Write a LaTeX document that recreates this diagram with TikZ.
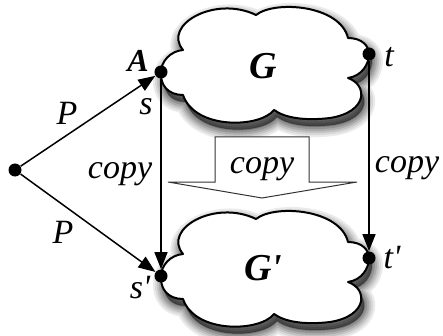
\documentclass[tikz,border=0pt]{standalone}
\usepackage{fontspec}
\setmainfont{Liberation Serif}
\usetikzlibrary{arrows.meta}
\newcommand\cloudpath{(161,72) .. controls (161,62) and (170,51) .. (183,50)
 .. controls (162,25) and (215,-5) .. (256,15)
 .. controls (275,0) and (340,5) .. (348,38)
 .. controls (362,38) and (369,46) .. (369,54)
 .. controls (369,64) and (362,76) .. (348,78)
 .. controls (368,85) and (368,112) .. (330,118)
 .. controls (305,121) and (285,118) .. (274,110)
 .. controls (260,128) and (195,130) .. (183,95)
 .. controls (168,95) and (160,85) .. (161,72) -- cycle}
\newcommand\cloudshadow{%
  \foreach \w/\o in {11/0.08,9/0.08,7/0.1,5/0.12,3/0.14,1/0.16}{%
    \path[shift={(3,7)}, fill=black, draw=black, line width=\w pt, opacity=\o, line join=round] \cloudpath;}}
\begin{document}
\begin{tikzpicture}[x=0.5pt,y=-0.5pt,
  dot/.style={circle,fill,inner sep=0pt,minimum size=6.5pt},
  arr/.style={-{Triangle[length=8.5pt,width=6.5pt]}, line width=0.75pt},
  lbl/.style={anchor=base, inner sep=0pt, font=\fontsize{17}{20}\selectfont\itshape},
  lblA/.style={anchor=base, inner sep=0pt, font=\fontsize{16}{18}\selectfont\bfseries\itshape},
  lblG/.style={anchor=base, inner sep=0pt, font=\fontsize{19}{22}\selectfont\bfseries\itshape},
  cloudbody/.style={fill=white, draw=black, line width=1pt, line join=round},
  bigarr/.style={fill=white, draw=black!80, line width=0.5pt}]
\useasboundingbox (0,0) rectangle (443,336);
% shadows
\cloudshadow
\begin{scope}[shift={(0,204)}]\cloudshadow\end{scope}
% clouds
\path[cloudbody] \cloudpath;
\begin{scope}[shift={(0,204)}]\path[cloudbody] \cloudpath;\end{scope}
% big hollow arrow
\draw[bigarr] (215,137) -- (309,137) -- (309,182) -- (357,182) -- (262,198) -- (168,182) -- (215,182) -- cycle;
% dots
\node[dot] (o) at (15,170) {};
\node[dot] (s) at (161,72) {};
\node[dot] (t) at (369,54) {};
\node[dot] (s2) at (161,276) {};
\node[dot] (t2) at (369,258) {};
% connectors
\draw[arr] (o) -- (s);
\draw[arr] (o) -- (s2);
\draw[arr] (s) -- (s2);
\draw[arr] (t) -- (t2);
% labels
\node[lbl] (lP1) at (67,125) {P};
\node[lbl] (lP2) at (63,243) {P};
\node[lbl] (ls) at (146,115) {s};
\node[lblA] (lA) at (138,72) {A};
\node[lbl] (ls2) at (140,298) {s\textquotesingle};
\node[lbl] (lt) at (389,67) {t};
\node[lbl] (lt2) at (392,268) {t\textquotesingle};
\node[lblG] (lG) at (263,79) {G};
\node[lblG] (lG2) at (263,280) {G\textquotesingle};
\node[lbl] (c1) at (120,178) {copy};
\node[lbl] (c2) at (262,173) {copy};
\node[lbl] (c3) at (407,172) {copy};
\end{tikzpicture}
\end{document}
